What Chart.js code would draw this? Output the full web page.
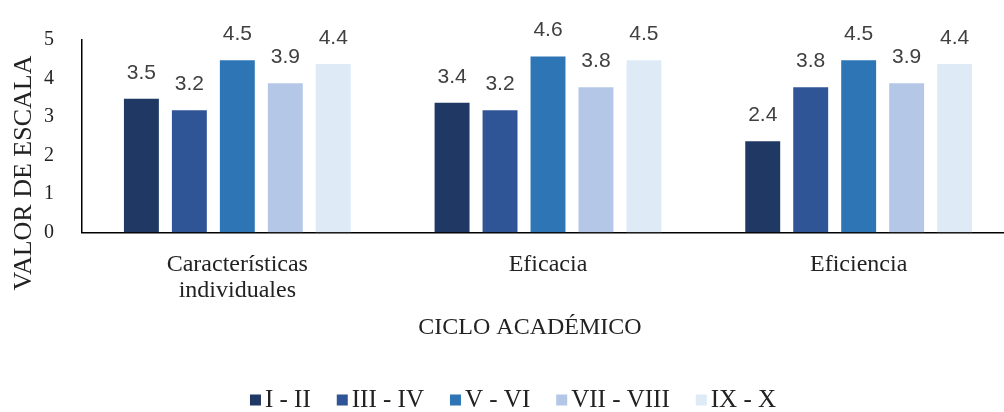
<!DOCTYPE html>
<html>
<head>
<meta charset="utf-8">
<script src="https://cdn.jsdelivr.net/npm/chart.js@4/dist/chart.umd.min.js"></script>
<style>
  html, body { margin: 0; padding: 0; background: #fff; overflow: hidden; }
  #wrap { width: 1014px; height: 412px; }
</style>
</head>
<body>
<div id="wrap"><canvas id="grafico"></canvas></div>
<script>
// datos
const categorias = [['Características', 'individuales'], 'Eficacia', 'Eficiencia'];
const ciclos = ['I - II', 'III - IV', 'V - VI', 'VII - VIII', 'IX - X'];
const cicloI_II = [3.5, 3.4, 2.4];
const cicloIII_IV = [3.2, 3.2, 3.8];
const cicloV_VI = [4.5, 4.6, 4.5];
const cicloVII_VIII = [3.9, 3.8, 3.9];
const cicloIX_X = [4.4, 4.5, 4.4];
const ticksY = [0, 1, 2, 3, 4, 5];

const colores = ['#203864', '#2F5597', '#2E75B6', '#B4C7E7', '#DEEBF7'];
const series = [cicloI_II, cicloIII_IV, cicloV_VI, cicloVII_VIII, cicloIX_X];
const fuente = "'Liberation Serif', 'Times New Roman', serif";

// etiquetas de valor encima de cada barra
const etiquetas = {
    id: 'etiquetas',
    afterDatasetsDraw(chart) {
        const ctx = chart.ctx;
        ctx.save();
        ctx.font = "21px 'Liberation Sans', Arial, sans-serif";
        ctx.fillStyle = '#404040';
        ctx.textAlign = 'center';
        ctx.textBaseline = 'alphabetic';
        chart.data.datasets.forEach((ds, i) => {
            chart.getDatasetMeta(i).data.forEach((bar, j) => {
                ctx.fillText(ds.data[j].toFixed(1), bar.x, bar.y - 19);
            });
        });
        ctx.restore();
    }
};

// títulos de ejes y leyenda, dibujados a mano para ponerlos donde están en la imagen
const textos = {
    id: 'textos',
    afterDraw(chart) {
        const ctx = chart.ctx;
        ctx.save();
        ctx.fillStyle = '#222';

        // eje Y
        ctx.save();
        ctx.translate(24, 173);
        ctx.rotate(-Math.PI / 2);
        ctx.font = '26px ' + fuente;
        ctx.textAlign = 'center';
        ctx.textBaseline = 'middle';
        ctx.fillText('VALOR DE ESCALA', 0, 0);
        ctx.restore();

        // eje X
        ctx.font = '24px ' + fuente;
        ctx.textAlign = 'center';
        ctx.textBaseline = 'middle';
        ctx.fillText('CICLO ACADÉMICO', 530, 328);

        // leyenda
        ctx.font = '25px ' + fuente;
        ctx.textAlign = 'left';
        const caja = 11, hueco = 4, sep = 26, yLey = 400;
        const anchos = ciclos.map(t => ctx.measureText(t).width);
        const total = anchos.reduce((a, w) => a + caja + hueco + w, 0) + sep * (ciclos.length - 1);
        let x = 513 - total / 2;
        ciclos.forEach((t, i) => {
            ctx.fillStyle = colores[i];
            ctx.fillRect(x, yLey - caja / 2, caja, caja);
            ctx.fillStyle = '#222';
            ctx.fillText(t, x + caja + hueco, yLey);
            x += caja + hueco + anchos[i] + sep;
        });
        ctx.restore();
    }
};

const ctx = document.getElementById('grafico').getContext('2d');
const grafico = new Chart(ctx, {
    type: 'bar',
    data: {
        labels: categorias,
        datasets: ciclos.map((nombre, i) => ({
            label: nombre,
            data: series[i],
            backgroundColor: colores[i],
            borderColor: 'rgba(255,255,255,0.35)',
            borderWidth: 1
        }))
    },
    options: {
        responsive: true,
        maintainAspectRatio: false,
        animation: false,
        datasets: {
            bar: { categoryPercentage: 0.772, barPercentage: 0.77 }
        },
        layout: { padding: { top: 31, right: 0, left: 16, bottom: 89 } },
        plugins: {
            legend: { display: false },
            tooltip: { enabled: false }
        },
        scales: {
            x: {
                grid: { display: false, drawTicks: false },
                border: { display: true, color: '#000', width: 1.5 },
                ticks: {
                    font: { family: fuente, size: 24, lineHeight: 1.05 },
                    color: '#222',
                    padding: 20
                }
            },
            y: {
                min: 0,
                max: 5,
                afterBuildTicks: axis => { axis.ticks = ticksY.map(v => ({ value: v })); },
                grid: { display: false, drawTicks: false },
                border: { display: true, color: '#000', width: 1.5 },
                ticks: {
                    font: { family: fuente, size: 20 },
                    color: '#222',
                    padding: 28
                }
            }
        }
    },
    plugins: [etiquetas, textos]
});
</script>
</body>
</html>
